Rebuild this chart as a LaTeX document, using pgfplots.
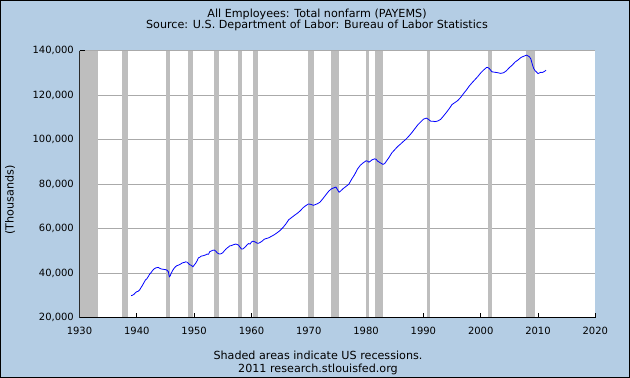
\documentclass[border=0pt]{standalone}
\usepackage{pgfplots}
\pgfplotsset{compat=1.18}
\usepackage{fontspec}
\setmainfont{DejaVu Sans}
\definecolor{bgblue}{RGB}{180,205,228}
\definecolor{recgrey}{RGB}{190,190,190}
\definecolor{gridgrey}{RGB}{170,170,170}
\definecolor{lineblue}{RGB}{0,0,255}
\begin{document}
\begin{tikzpicture}[font=\fontsize{11.2}{13}\selectfont]
\useasboundingbox (0,0) rectangle (630bp,378bp);
\fill[bgblue] (0,0) rectangle (630bp,378bp);
\begin{axis}[
  at={(79.5bp,60.3bp)}, anchor=south west,
  scale only axis, width=515.8bp, height=267bp,
  xmin=1930, xmax=2020, ymin=20000, ymax=140000,
  axis background/.style={fill=white},
  axis x line*=bottom, axis y line*=left,
  axis line style={black, line width=1bp},
  xtick={1930,1940,...,2020},
  ytick={20000,40000,...,140000},
  scaled y ticks=false,
  tick align=inside,
  major tick length=5bp,
  tick style={black, line width=0.8bp},
  ymajorgrids,
  major grid style={gridgrey, line width=0.9bp},
  xticklabel style={/pgf/number format/1000 sep={}, /pgf/number format/assume math mode=true, font=\fontsize{10}{12}\selectfont, anchor=north, inner sep=0pt, yshift=-9bp},
  yticklabel style={/pgf/number format/.cd, fixed, 1000 sep={,}, assume math mode=true, /tikz/.cd, font=\fontsize{10}{12}\selectfont, anchor=east, inner sep=0pt, xshift=-5.5bp},
  clip=true,
]
% recessions (NBER)
\addplot[fill=recgrey, draw=none] coordinates {(1929.6,20000) (1929.6,140000) (1933.2,140000) (1933.2,20000)} --cycle;
\addplot[fill=recgrey, draw=none] coordinates {(1937.35,20000) (1937.35,140000) (1938.45,140000) (1938.45,20000)} --cycle;
\addplot[fill=recgrey, draw=none] coordinates {(1945.1,20000) (1945.1,140000) (1945.8,140000) (1945.8,20000)} --cycle;
\addplot[fill=recgrey, draw=none] coordinates {(1948.85,20000) (1948.85,140000) (1949.8,140000) (1949.8,20000)} --cycle;
\addplot[fill=recgrey, draw=none] coordinates {(1953.5,20000) (1953.5,140000) (1954.4,140000) (1954.4,20000)} --cycle;
\addplot[fill=recgrey, draw=none] coordinates {(1957.6,20000) (1957.6,140000) (1958.3,140000) (1958.3,20000)} --cycle;
\addplot[fill=recgrey, draw=none] coordinates {(1960.25,20000) (1960.25,140000) (1961.1,140000) (1961.1,20000)} --cycle;
\addplot[fill=recgrey, draw=none] coordinates {(1969.9,20000) (1969.9,140000) (1970.9,140000) (1970.9,20000)} --cycle;
\addplot[fill=recgrey, draw=none] coordinates {(1973.85,20000) (1973.85,140000) (1975.2,140000) (1975.2,20000)} --cycle;
\addplot[fill=recgrey, draw=none] coordinates {(1980.05,20000) (1980.05,140000) (1980.55,140000) (1980.55,20000)} --cycle;
\addplot[fill=recgrey, draw=none] coordinates {(1981.55,20000) (1981.55,140000) (1982.9,140000) (1982.9,20000)} --cycle;
\addplot[fill=recgrey, draw=none] coordinates {(1990.55,20000) (1990.55,140000) (1991.2,140000) (1991.2,20000)} --cycle;
\addplot[fill=recgrey, draw=none] coordinates {(2001.2,20000) (2001.2,140000) (2001.9,140000) (2001.9,20000)} --cycle;
\addplot[fill=recgrey, draw=none] coordinates {(2007.9,20000) (2007.9,140000) (2009.5,140000) (2009.5,20000)} --cycle;
% PAYEMS
\addplot[lineblue, line width=0.8bp] coordinates {
(1939.0,29900) (1939.25,30100) (1939.5,30500) (1939.75,31200)
(1940.0,31700) (1940.25,31900) (1940.5,32500) (1940.75,33600)
(1941.0,34600) (1941.25,35800) (1941.5,36900) (1941.75,37500)
(1942.0,38500) (1942.25,39600) (1942.5,40300) (1942.75,41200)
(1943.0,41900) (1943.25,42300) (1943.5,42500) (1943.75,42600)
(1944.0,42200) (1944.25,41900) (1944.5,41800) (1944.75,41700)
(1945.0,41600) (1945.25,41400) (1945.5,40700) (1945.67,38400) (1945.83,38800)
(1946.0,40000) (1946.25,41200) (1946.5,42200) (1946.75,42900)
(1947.0,43400) (1947.25,43600) (1947.5,43900) (1947.75,44300)
(1948.0,44700) (1948.25,44800) (1948.5,45100) (1948.75,45000)
(1949.0,44400) (1949.25,43800) (1949.5,43500) (1949.8,42900)
(1950.0,43600) (1950.25,44400) (1950.5,45500) (1950.75,46900)
(1951.0,47200) (1951.25,47700) (1951.5,47800) (1951.75,48000)
(1952.0,48200) (1952.25,48600) (1952.5,48500) (1952.75,49700)
(1953.0,50000) (1953.25,50300) (1953.5,50400) (1953.75,50000)
(1954.0,49200) (1954.25,48800) (1954.5,48600) (1954.75,48800)
(1955.0,49200) (1955.25,50000) (1955.5,50700) (1955.75,51300)
(1956.0,51800) (1956.25,52300) (1956.5,52400) (1956.75,52700)
(1957.0,52900) (1957.25,53100) (1957.5,52900) (1957.75,52600)
(1958.0,51700) (1958.25,50900) (1958.5,50900) (1958.75,51400)
(1959.0,52000) (1959.25,52800) (1959.5,53300) (1959.75,53100)
(1960.0,54000) (1960.25,54400) (1960.5,54200) (1960.75,53900)
(1961.0,53500) (1961.25,53500) (1961.5,53800) (1961.75,54200)
(1962.0,54700) (1962.25,55300) (1962.5,55500) (1962.75,55700)
(1963.0,55900) (1963.5,56600) (1964.0,57300) (1964.5,58200)
(1965.0,59200) (1965.5,60500) (1966.0,62100) (1966.5,64000)
(1967.0,65000) (1967.5,66000) (1968.0,66900) (1968.5,68000)
(1969.0,69400) (1969.5,70400) (1969.95,71100)
(1970.25,71000) (1970.5,70800) (1970.85,70500)
(1971.0,70700) (1971.5,71200) (1971.95,71900)
(1972.5,73600) (1972.95,75100) (1973.5,76900) (1973.95,77900)
(1974.4,78400) (1974.75,78700) (1975.0,77600) (1975.3,76400) (1975.5,76800)
(1976.0,78000) (1976.5,79000) (1977.0,80000) (1977.5,82300)
(1978.0,84300) (1978.5,86800) (1979.0,88500) (1979.5,89600)
(1980.0,90500) (1980.25,90400) (1980.5,89900) (1980.75,90300)
(1981.0,90900) (1981.5,91400) (1981.75,91200)
(1982.0,90400) (1982.5,89600) (1982.95,88900)
(1983.25,89300) (1983.5,90200) (1984.0,92000) (1984.5,94100)
(1985.0,95500) (1985.5,96900) (1986.0,98000) (1986.5,99200)
(1987.0,100300) (1987.5,101700) (1988.0,103200) (1988.5,104900)
(1989.0,106600) (1989.5,107900) (1990.0,109200) (1990.5,109700)
(1990.75,109400) (1991.0,108900) (1991.3,108300) (1991.75,108300)
(1992.0,108100) (1992.5,108400) (1993.0,109100) (1993.5,110600)
(1994.0,112200) (1994.5,113900) (1995.0,115800) (1995.5,116700)
(1996.0,117600) (1996.5,119000) (1997.0,120700) (1997.5,122300)
(1998.0,124100) (1998.5,125600) (1999.0,127000) (1999.5,128400)
(2000.0,130000) (2000.5,131300) (2001.0,132400) (2001.2,132500)
(2001.5,132000) (2001.8,131000) (2002.0,130500) (2002.5,130300)
(2003.0,130100) (2003.5,129800) (2004.0,130100) (2004.5,131000)
(2005.0,132400) (2005.5,133500) (2006.0,134900) (2006.5,135800)
(2007.0,136900) (2007.5,137500) (2008.0,138000) (2008.5,137300)
(2008.75,136300) (2009.0,134000) (2009.25,132000) (2009.5,131000)
(2009.75,130400) (2010.0,129700) (2010.3,130100) (2010.5,130300)
(2010.75,130200) (2011.0,130500) (2011.3,131000) (2011.4,131200)
};
\draw[black, line width=1bp] (rel axis cs:0,1) -- (rel axis cs:0,0) -- (rel axis cs:1,0);
\end{axis}
\node[anchor=base] at (317bp,360.5bp) {All Employees: Total nonfarm (PAYEMS)};
\node[anchor=base] at (317bp,349.5bp) {Source: U.S. Department of Labor: Bureau of Labor Statistics};
\node[anchor=base] at (318bp,19bp) {Shaded areas indicate US recessions.};
\node[anchor=base] at (318bp,6bp) {2011 research.stlouisfed.org};
\node[rotate=90] at (10bp,178bp) {(Thousands)};
\draw[black, line width=1bp] (0.5bp,0.5bp) rectangle (629.5bp,377.5bp);
\end{tikzpicture}
\end{document}
